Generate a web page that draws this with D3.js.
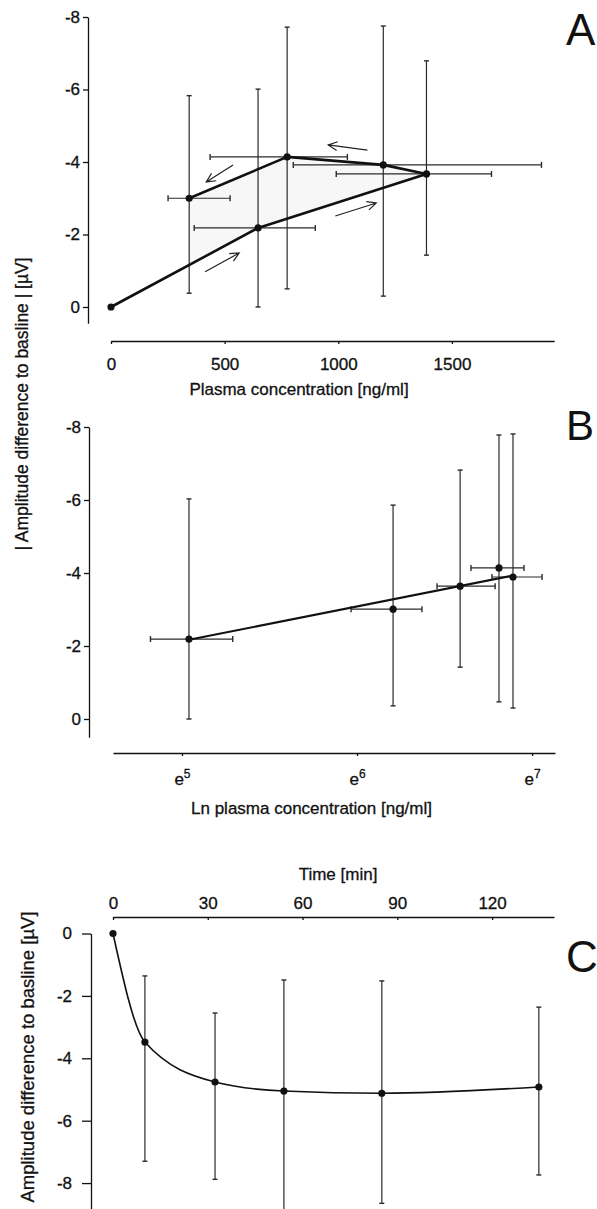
<!DOCTYPE html>
<html>
<head>
<meta charset="utf-8">
<script src="https://cdn.jsdelivr.net/npm/d3@7"></script>
<style>
  html, body { margin: 0; padding: 0; background: #fff; }
  svg { display: block; }
  text { font-family: "Liberation Sans", Arial, Helvetica, sans-serif; fill: #111; stroke: #111; stroke-width: 0.3px; }
</style>
</head>
<body>
<svg id="chart" width="597" height="1209"></svg>
<script>
// ---------------- Panel A data ----------------
const concA    = [0, 647, 1388, 1198, 775, 344];          // plasma concentration [ng/ml]
const ampA     = [0, -2.18, -3.67, -3.92, -4.14, -3.0];   // amplitude [µV]
const ampA_top = [null, -6.01, -6.79, -7.75, -7.72, -5.83];
const ampA_bot = [null, 0, -1.43, -0.3, -0.5, -0.38];
const concA_lo = [null, 366, 991, 802, 436, 251];
const concA_hi = [null, 899, 1674, 1894, 1040, 524];
const arrowsA  = [[414, -0.97, 564, -1.49], [987, -2.51, 1167, -2.87], [1128, -4.33, 956, -4.47], [537, -3.92, 419, -3.45]];
const ticksAx  = [0, 500, 1000, 1500];
const ticksAmp = [0, -2, -4, -6, -8];

// ---------------- Panel B data ----------------
const lnB      = [5.04, 6.206, 6.589, 6.811, 6.891];
const ampB     = [-2.19, -3.01, -3.64, -4.14, -3.89];
const ampB_top = [-6.03, -5.86, -6.82, -7.78, -7.81];
const ampB_bot = [0, -0.36, -1.42, -0.47, -0.3];
const lnB_lo   = [4.82, 5.966, 6.457, 6.651, 6.771];
const lnB_hi   = [5.29, 6.371, 6.789, 6.954, 7.057];
const fitB     = [[5.04, -2.17], [6.89, -3.93]];
const ticksBx  = [5, 6, 7];

// ---------------- Panel C data ----------------
const timeC    = [0, 10.1, 32.3, 54.1, 85.1, 134.8];
const ampC     = [0, -3.48, -4.76, -5.05, -5.12, -4.92];
const ampC_top = [null, -1.36, -2.55, -1.49, -1.52, -2.36];
const ampC_bot = [null, -7.3, -7.88, -8.9, -8.65, -7.74];
const ticksCx  = [0, 30, 60, 90, 120];

const svg = d3.select("#chart");
const INK = "#111";
const BAR = "#2a2a2a";
const FS = 17;

function styleAxis(g) {
  g.select(".domain").attr("stroke", INK).attr("stroke-width", 1.3);
  g.selectAll(".tick line").attr("stroke", INK).attr("stroke-width", 1.3);
  g.selectAll(".tick text").attr("font-size", FS).attr("fill", INK)
    .attr("font-family", '"Liberation Sans", Arial, sans-serif');
}

function vBars(g, xs, tops, bots, x, y, cap) {
  xs.forEach((v, i) => {
    if (tops[i] == null) return;
    const px = x(v);
    g.append("line").attr("x1", px).attr("x2", px).attr("y1", y(tops[i])).attr("y2", y(bots[i]))
      .attr("stroke", BAR).attr("stroke-width", 1.2);
    [tops[i], bots[i]].forEach(t => {
      g.append("line").attr("x1", px - cap).attr("x2", px + cap).attr("y1", y(t)).attr("y2", y(t))
        .attr("stroke", BAR).attr("stroke-width", 1.4);
    });
  });
}
function hBars(g, ys, los, his, x, y, cap) {
  ys.forEach((v, i) => {
    if (los[i] == null) return;
    const py = y(v);
    g.append("line").attr("x1", x(los[i])).attr("x2", x(his[i])).attr("y1", py).attr("y2", py)
      .attr("stroke", BAR).attr("stroke-width", 1.2);
    [los[i], his[i]].forEach(t => {
      g.append("line").attr("x1", x(t)).attr("x2", x(t)).attr("y1", py - cap).attr("y2", py + cap)
        .attr("stroke", BAR).attr("stroke-width", 1.4);
    });
  });
}

// ================= Panel A =================
const xA = d3.scaleLinear().domain([0, 1950]).range([111, 554.2]);
const yA = d3.scaleLinear().domain([0.45, -8]).range([323.3, 17]);
const gA = svg.append("g");

// shaded loop area
const lowerAt344 = ampA[0] + (ampA[1] - ampA[0]) * (concA[5] - concA[0]) / (concA[1] - concA[0]);
const poly = [[concA[5], lowerAt344], [concA[1], ampA[1]], [concA[2], ampA[2]], [concA[3], ampA[3]], [concA[4], ampA[4]], [concA[5], ampA[5]]];
gA.append("path")
  .attr("d", d3.line().x(d => xA(d[0])).y(d => yA(d[1]))(poly) + "Z")
  .attr("fill", "#f7f7f7").attr("stroke", "none");

gA.append("g").attr("transform", "translate(0,341)")
  .call(d3.axisBottom(xA).tickValues(ticksAx).tickSize(3).tickSizeOuter(0).tickPadding(14).tickFormat(d => String(d)))
  .call(styleAxis);
gA.append("g").attr("transform", "translate(88,0)")
  .call(d3.axisLeft(yA).tickValues(ticksAmp).tickSize(5).tickSizeOuter(0).tickPadding(3).tickFormat(d => String(d)))
  .call(styleAxis);

vBars(gA, concA, ampA_top, ampA_bot, xA, yA, 2.5);
hBars(gA, ampA, concA_lo, concA_hi, xA, yA, 3);

gA.append("path")
  .attr("d", d3.line().x((d, i) => xA(concA[i])).y((d, i) => yA(ampA[i]))(ampA))
  .attr("fill", "none").attr("stroke", INK).attr("stroke-width", 2.6).attr("stroke-linejoin", "round");
gA.selectAll("circle").data(ampA).join("circle")
  .attr("cx", (d, i) => xA(concA[i])).attr("cy", d => yA(d)).attr("r", 3.6).attr("fill", INK);

// arrows
arrowsA.forEach(a => {
  const x1 = xA(a[0]), y1 = yA(a[1]), x2 = xA(a[2]), y2 = yA(a[3]);
  const ang = Math.atan2(y2 - y1, x2 - x1);
  const L = 10, w = 0.45;
  const p1 = [x2 - L * Math.cos(ang - w), y2 - L * Math.sin(ang - w)];
  const p2 = [x2 - L * Math.cos(ang + w), y2 - L * Math.sin(ang + w)];
  gA.append("path")
    .attr("d", `M${x1},${y1}L${x2},${y2}M${p1[0]},${p1[1]}L${x2},${y2}L${p2[0]},${p2[1]}`)
    .attr("fill", "none").attr("stroke", "#222").attr("stroke-width", 1.2).attr("stroke-linejoin", "miter");
});

gA.append("text").attr("x", 299).attr("y", 394.5).attr("text-anchor", "middle").attr("font-size", FS)
  .text("Plasma concentration [ng/ml]");
svg.append("text").attr("x", 566).attr("y", 45).attr("font-size", 44).style("stroke-width", "0px").text("A");

// ================= Panel B =================
const xB = d3.scaleLinear().domain([4.606, 7.131]).range([113, 555]);
const yB = d3.scaleLinear().domain([0.5, -8]).range([737.25, 427]);
const gB = svg.append("g");

const axB = gB.append("g").attr("transform", "translate(0,753)")
  .call(d3.axisBottom(xB).tickValues(ticksBx).tickSize(3).tickSizeOuter(0).tickPadding(17).tickFormat(d => ""))
  .call(styleAxis);
axB.selectAll(".tick text").each(function (d) {
  const t = d3.select(this);
  t.append("tspan").text("e");
  t.append("tspan").attr("font-size", 12).attr("dy", "-0.55em").text(String(d));
});
gB.append("g").attr("transform", "translate(89,0)")
  .call(d3.axisLeft(yB).tickValues(ticksAmp).tickSize(5).tickSizeOuter(0).tickPadding(3).tickFormat(d => String(d)))
  .call(styleAxis);

vBars(gB, lnB, ampB_top, ampB_bot, xB, yB, 2.5);
hBars(gB, ampB, lnB_lo, lnB_hi, xB, yB, 3);
gB.append("path")
  .attr("d", d3.line().x(d => xB(d[0])).y(d => yB(d[1]))(fitB))
  .attr("fill", "none").attr("stroke", INK).attr("stroke-width", 2.2);
gB.selectAll("circle").data(ampB).join("circle")
  .attr("cx", (d, i) => xB(lnB[i])).attr("cy", d => yB(d)).attr("r", 3.6).attr("fill", INK);

gB.append("text").attr("x", 311.5).attr("y", 814).attr("text-anchor", "middle").attr("font-size", FS)
  .text("Ln plasma concentration [ng/ml]");
svg.append("text").attr("x", 566).attr("y", 440).attr("font-size", 42).style("stroke-width", "0px").text("B");

// shared y label for A/B
svg.append("text").attr("transform", "translate(28,404) rotate(-90)").attr("text-anchor", "middle")
  .attr("font-size", 17.5).text("| Amplitude difference to basline | [µV]");

// ================= Panel C =================
const xC = d3.scaleLinear().domain([0, 139.6]).range([113, 554]);
const yC = d3.scaleLinear().domain([0, -8.85]).range([933.5, 1209.6]);
const gC = svg.append("g");

gC.append("g").attr("transform", "translate(0,917)")
  .call(d3.axisTop(xC).tickValues(ticksCx).tickSize(-3).tickSizeOuter(0).tickPadding(8).tickFormat(d => String(d)))
  .call(styleAxis);
gC.append("g").attr("transform", "translate(91,0)")
  .call(d3.axisLeft(yC).tickValues(ticksAmp).tickSize(9).tickSizeOuter(0).tickPadding(10).tickFormat(d => String(d)))
  .call(styleAxis);

vBars(gC, timeC, ampC_top, ampC_bot, xC, yC, 2.5);
gC.append("path")
  .attr("d", d3.line().curve(d3.curveMonotoneX).x((d, i) => xC(timeC[i])).y(d => yC(d))(ampC))
  .attr("fill", "none").attr("stroke", INK).attr("stroke-width", 1.6);
gC.selectAll("circle").data(ampC).join("circle")
  .attr("cx", (d, i) => xC(timeC[i])).attr("cy", d => yC(d)).attr("r", 3.6).attr("fill", INK);

gC.append("text").attr("x", 338).attr("y", 880).attr("text-anchor", "middle").attr("font-size", FS)
  .text("Time [min]");
svg.append("text").attr("x", 566).attr("y", 972).attr("font-size", 44).style("stroke-width", "0px").text("C");
svg.append("text").attr("transform", "translate(34,1057) rotate(-90)").attr("text-anchor", "middle")
  .attr("font-size", 18.5).text("Amplitude difference to basline [µV]");
</script>
</body>
</html>
